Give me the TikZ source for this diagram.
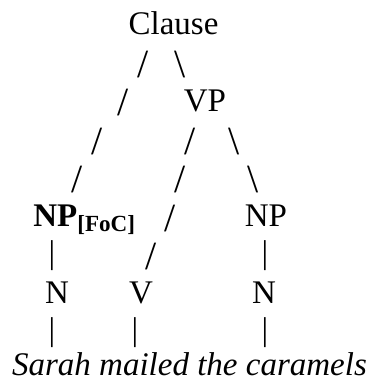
\documentclass[tikz,border=0pt]{standalone}
\usepackage{fontspec}
\setmainfont{Liberation Serif}
\usepackage{tikz}
\newcommand{\treefont}{\fontsize{16.5}{20}\selectfont}
\newcommand{\branchfont}{\fontsize{20}{24}\selectfont}
\tikzset{word/.style={anchor=base, inner sep=0pt, font=\treefont},
  branch/.style={anchor=base, inner sep=0pt, font=\branchfont},
  stem/.style={anchor=base, inner sep=0pt, font=\treefont}}

\begin{document}
\begin{tikzpicture}[x=0.5pt, y=-0.5pt]
  \useasboundingbox (0,0) rectangle (369,377);

  % categories
  \node [word] (clause) at (173.5,34) {Clause};
  \node [word] (vp) at (205,111) {VP};
  \node [word, anchor=base west] (npfoc) at (33,226.5) {\textbf{NP}\textsubscript{\textbf{[FoC]}}};
  \node [word] (np) at (266,226.5) {NP};
  \node [word] (n1) at (57,303) {N};
  \node [word] (v) at (141,303) {V};
  \node [word] (n2) at (264,303) {N};
  \node [word] (words) at (189.5,375.5) {\textit{Sarah mailed the caramels}};

  % branches, one character each
  \node [branch] (b1) at (143,77) {/};
  \node [branch] (b2) at (180,77) {\textbackslash};
  \node [branch] (b3) at (123,115.5) {/};
  \node [branch] (b4) at (97,154) {/};
  \node [branch] (b5) at (190,154) {/};
  \node [branch] (b6) at (234,154) {\textbackslash};
  \node [branch] (b7) at (77,192.5) {/};
  \node [branch] (b8) at (180,192.5) {/};
  \node [branch] (b9) at (253,192.5) {\textbackslash};
  \node [branch] (b10) at (170,231) {/};
  \node [branch] (b12) at (151,269.5) {/};

  % stems
  \node [stem] (s1) at (52,263) {|};
  \node [stem] (s2) at (265,263) {|};
  \node [stem] (s3) at (52,340) {|};
  \node [stem] (s4) at (135,340) {|};
  \node [stem] (s5) at (265,340) {|};

\end{tikzpicture}
\end{document}
